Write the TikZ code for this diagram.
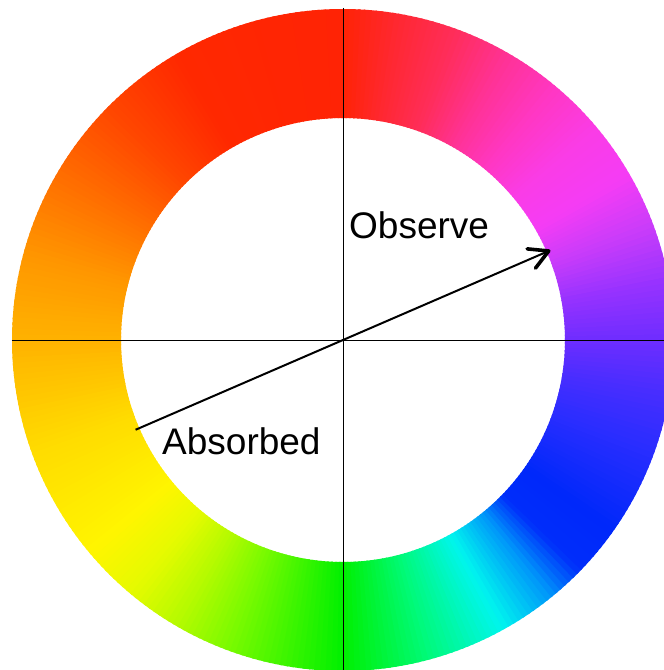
\documentclass[tikz,border=0pt]{standalone}
\usepackage{fontspec}
\setmainfont{Liberation Sans}
\usetikzlibrary{arrows.meta}
\definecolor{k1}{RGB}{0,240,0}
\definecolor{k2}{RGB}{0,250,120}
\definecolor{k3}{RGB}{0,245,238}
\definecolor{k4}{RGB}{0,150,250}
\definecolor{k5}{RGB}{0,45,250}
\definecolor{k6}{RGB}{0,40,250}
\definecolor{k7}{RGB}{40,45,255}
\definecolor{k8}{RGB}{70,45,255}
\definecolor{k9}{RGB}{110,45,255}
\definecolor{k10}{RGB}{150,50,255}
\definecolor{k11}{RGB}{200,60,250}
\definecolor{k12}{RGB}{245,60,245}
\definecolor{k13}{RGB}{250,60,230}
\definecolor{k14}{RGB}{255,55,195}
\definecolor{k15}{RGB}{255,50,150}
\definecolor{k16}{RGB}{255,45,90}
\definecolor{k17}{RGB}{255,40,50}
\definecolor{k18}{RGB}{255,35,5}
\definecolor{k19}{RGB}{255,40,0}
\definecolor{k20}{RGB}{255,70,0}
\definecolor{k21}{RGB}{255,110,0}
\definecolor{k22}{RGB}{255,150,0}
\definecolor{k23}{RGB}{255,178,0}
\definecolor{k24}{RGB}{255,220,0}
\definecolor{k25}{RGB}{255,245,0}
\definecolor{k26}{RGB}{230,250,0}
\definecolor{k27}{RGB}{180,250,0}
\definecolor{k28}{RGB}{120,250,0}
\definecolor{k29}{RGB}{60,245,0}
\tikzset{
  axisline/.style={black, line width=0.9pt},
  arrowline/.style={black, line width=2pt, -{Straight Barb[length=19pt,width=21pt,line width=3.6pt,round]}},
  lbl/.style={font=\fontsize{37}{44}\selectfont, inner sep=0pt, anchor=base west, text=black}
}
\begin{document}
\begin{tikzpicture}[x=1pt,y=1pt]
\useasboundingbox (-343,-330) rectangle (321,340);
\fill[white] (-343,-330) rectangle (321,340);
\def\Ro{331pt}
\def\Ri{222pt}
\foreach \sa/\sb/\ca/\cb in {-90/-75/k1/k2,-75/-61/k2/k3,-61/-51/k3/k4,-51/-44/k4/k5,-44/-35/k5/k6,-35/-20/k6/k7,-20/-10/k7/k8,-10/0/k8/k9,0/10/k9/k10,10/20/k10/k11,20/30/k11/k12,30/40/k12/k13,40/50/k13/k14,50/60/k14/k15,60/70/k15/k16,70/80/k16/k17,80/90/k17/k18,90/120/k18/k19,120/135/k19/k20,135/150/k20/k21,150/165/k21/k22,165/180/k22/k23,180/200/k23/k24,200/220/k24/k25,220/230/k25/k26,230/240/k26/k27,240/250/k27/k28,250/260/k28/k29,260/270/k29/k1}{
  \pgfmathtruncatemacro{\nn}{\sb-\sa-1}
  \foreach \k in {0,...,\nn}{
    \pgfmathsetmacro{\t}{\sa+\k}
    \pgfmathsetmacro{\te}{\sa+\k+1.4}
    \pgfmathtruncatemacro{\p}{round(100*(\k+0.5)/(\sb-\sa))}
    \colorlet{segc}{\cb!\p!\ca}
    \fill[segc] (\t:\Ro) arc[start angle=\t, end angle=\te, radius=\Ro] -- (\te:\Ri) arc[start angle=\te, end angle=\t, radius=\Ri] -- cycle;
  }
}
\coordinate (C) at (0,0);
\coordinate (W) at (-331,0);
\coordinate (E) at (321,0);
\coordinate (N) at (0,332);
\coordinate (S) at (0,-330);
\coordinate (A1) at (203.4:226pt);
\coordinate (A2) at (23.4:226pt);
\draw[axisline] (W) -- (E);
\draw[axisline] (N) -- (S);
\draw[arrowline] (A1) -- (A2);
\node[lbl] (obs) at (6,102) {Observe};
\node[lbl] (abs) at (-181,-114) {Absorbed};
\end{tikzpicture}
\end{document}
